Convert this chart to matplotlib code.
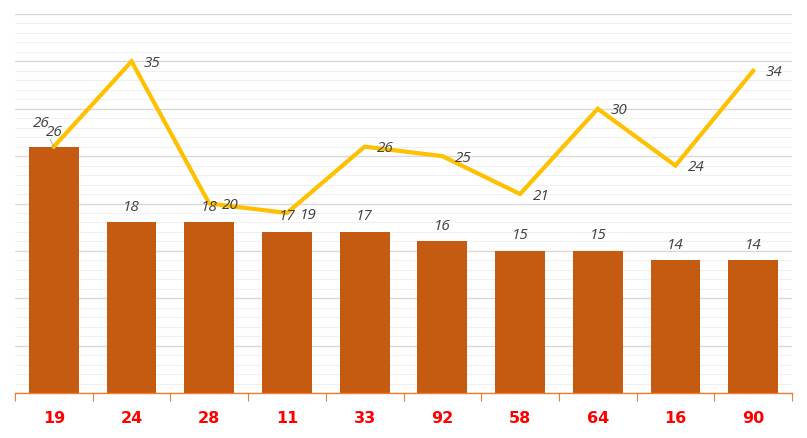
import matplotlib
matplotlib.use("Agg")
import matplotlib.pyplot as plt
import numpy as np
from matplotlib.ticker import MultipleLocator, FixedLocator

categories = ["19", "24", "28", "11", "33", "92", "58", "64", "16", "90"]
bar_values = [26, 18, 18, 17, 17, 16, 15, 15, 14, 14]
line_values = [26, 35, 20, 19, 26, 25, 21, 30, 24, 34]

BAR_COLOR = "#c55a11"
LINE_COLOR = "#ffc000"
LABEL_COLOR = "#404040"

fig = plt.figure(figsize=(8.07, 4.38), dpi=100)
ax = fig.add_axes([15 / 807, 1 - 393 / 438, 777 / 807, 379 / 438])

x = np.arange(len(categories))
ax.bar(x, bar_values, width=0.64, color=BAR_COLOR, zorder=2)
ax.plot(x, line_values, color=LINE_COLOR, lw=3, zorder=3, solid_joinstyle="miter")

ax.set_xlim(-0.5, len(categories) - 0.5)
ax.set_ylim(0, 40)

# grid
ax.yaxis.set_major_locator(MultipleLocator(5))
ax.yaxis.set_minor_locator(MultipleLocator(1))
ax.grid(which="major", axis="y", color="#d9d9d9", lw=1, zorder=0)
ax.grid(which="minor", axis="y", color="#f0f0f0", lw=0.8, zorder=0)
ax.tick_params(axis="y", which="both", left=False, labelleft=False)

# x axis: ticks at category boundaries, labels at centres
ax.xaxis.set_major_locator(FixedLocator(np.arange(-0.5, len(categories), 1)))
ax.xaxis.set_minor_locator(FixedLocator(x))
ax.set_xticklabels([])
ax.set_xticklabels(categories, minor=True)
ax.tick_params(axis="x", which="major", length=6, color="#ed7d31", direction="out")
ax.tick_params(axis="x", which="minor", length=0, pad=13,
               labelcolor="#ff0000", labelsize=11.5)
for lab in ax.get_xticklabels(minor=True):
    lab.set_fontweight("bold")

for s in ["top", "left", "right"]:
    ax.spines[s].set_visible(False)
ax.spines["bottom"].set_color("#ed7d31")
ax.spines["bottom"].set_linewidth(1)

font = dict(family="Open Sans", style="italic", size=11, color=LABEL_COLOR)

# bar labels (first one pushed aside with a leader line)
for i, v in enumerate(bar_values):
    if i == 0:
        ax.annotate(str(v), (x[i], v), xytext=(-9, 17), textcoords="offset points",
                    ha="center", va="center", zorder=4,
                    arrowprops=dict(arrowstyle="-", color="#a6a6a6", lw=0.7,
                                    shrinkA=5, shrinkB=0), **font)
    else:
        ax.annotate(str(v), (x[i], v), xytext=(0, 11), textcoords="offset points",
                    ha="center", va="center", **font)

# line labels
for i, v in enumerate(line_values):
    off = (0, 10) if i == 0 else (15, -1.5)
    ax.annotate(str(v), (x[i], v), xytext=off, textcoords="offset points",
                ha="center", va="center", zorder=4, **font)

plt.savefig("out.png", dpi=100)
